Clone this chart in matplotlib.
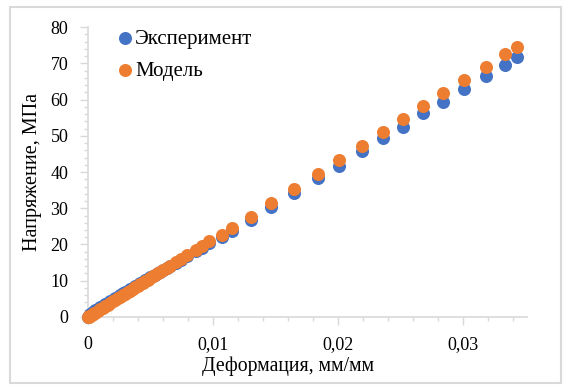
import matplotlib.pyplot as plt
from matplotlib.patches import Rectangle
from matplotlib.ticker import MultipleLocator, FuncFormatter

# strain, mm/mm (shared by both series)
strain = [0, 0.00005, 0.0001, 0.0002, 0.0003, 0.0004, 0.0005, 0.0006, 0.0008,
          0.0010, 0.0012, 0.0014, 0.0016, 0.0018, 0.0020, 0.0022, 0.0024,
          0.0026, 0.0028, 0.0030, 0.0032, 0.0034, 0.0036, 0.0038, 0.0040,
          0.0042, 0.0044, 0.0046, 0.0048, 0.0050, 0.0052, 0.0054, 0.0056,
          0.0058, 0.0060, 0.0063, 0.0066, 0.0070, 0.0074, 0.0079, 0.0086,
          0.0091, 0.0097, 0.0107, 0.0115, 0.0130, 0.0146, 0.0165, 0.0184,
          0.0201, 0.0219, 0.0236, 0.0252, 0.0268, 0.0284, 0.0301, 0.0318,
          0.0333, 0.0343]

# stress, MPa
stress_exp = [0, 0.2, 0.4, 0.7, 1.0, 1.3, 1.5, 1.8, 2.2,
              2.7, 3.1, 3.5, 3.9, 4.4, 4.8, 5.2, 5.6,
              6.1, 6.5, 6.9, 7.3, 7.7, 8.1, 8.5, 8.9,
              9.3, 9.7, 10.1, 10.5, 10.9, 11.3, 11.7, 12.1,
              12.5, 12.9, 13.5, 14.1, 14.9, 15.7, 16.7, 18.1,
              19.1, 20.3, 22.1, 23.8, 26.8, 30.3, 34.2, 38.3,
              41.7, 45.8, 49.5, 52.5, 56.2, 59.4, 62.8, 66.5,
              69.5, 71.7]

stress_model = [0, 0.1, 0.2, 0.4, 0.6, 0.8, 1.0, 1.2, 1.7,
                2.1, 2.5, 3.0, 3.4, 3.8, 4.3, 4.7, 5.1,
                5.6, 6.0, 6.4, 6.9, 7.3, 7.7, 8.2, 8.6,
                9.0, 9.5, 9.9, 10.3, 10.8, 11.2, 11.6, 12.1,
                12.5, 12.9, 13.6, 14.2, 15.1, 16.0, 17.0, 18.6,
                19.6, 20.9, 22.6, 24.6, 27.6, 31.4, 35.3, 39.4,
                43.3, 47.3, 51.1, 54.6, 58.2, 61.7, 65.4, 69.0,
                72.5, 74.5]

plt.rcParams['font.family'] = ['Liberation Serif', 'DejaVu Serif']

fig = plt.figure(figsize=(5.71, 3.87), dpi=100)
fig.patches.append(Rectangle((10 / 571, 4 / 387), 551 / 571, 376 / 387,
                             transform=fig.transFigure, fill=False,
                             edgecolor="#d9d9d9", linewidth=1.5))

ax = fig.add_axes([0.154, 0.181, 0.769, 0.749])
ax.scatter(strain, stress_exp, s=88, color="#4472C4", label="Эксперимент",
           clip_on=False, zorder=3, linewidths=0)
ax.scatter(strain, stress_model, s=88, color="#ED7D31", label="Модель",
           clip_on=False, zorder=4, linewidths=0)

ax.set_xlim(0, 0.0351)
ax.set_ylim(0, 80)
ax.xaxis.set_major_locator(MultipleLocator(0.01))
ax.xaxis.set_minor_locator(MultipleLocator(0.002))
ax.yaxis.set_major_locator(MultipleLocator(10))
ax.yaxis.set_minor_locator(MultipleLocator(2))
ax.xaxis.set_major_formatter(FuncFormatter(
    lambda v, p: "0" if abs(v) < 1e-9 else f"{v:.2f}".replace(".", ",")))

for side in ("top", "right"):
    ax.spines[side].set_visible(False)
for side in ("left", "bottom"):
    ax.spines[side].set_color("#d9d9d9")
    ax.spines[side].set_linewidth(1.2)
ax.tick_params(which="major", length=6, width=1, color="#d9d9d9",
               labelsize=13, pad=8)
ax.tick_params(which="minor", length=3, width=1, color="#d9d9d9")

ax.set_xlabel("Деформация, мм/мм", fontsize=14.2, labelpad=5)
ax.xaxis.set_label_coords(0.456, -0.135)
ax.set_ylabel("Напряжение, МПа", fontsize=14.5, labelpad=6)

ax.legend(loc="upper left", bbox_to_anchor=(112 / 571, 1 - 29 / 387),
          bbox_transform=fig.transFigure, frameon=False,
          fontsize=15, handletextpad=-0.1, borderaxespad=0.0,
          borderpad=0.0, labelspacing=0.6, scatterpoints=1,
          handlelength=1.2)

fig.savefig("out.png", dpi=100)
